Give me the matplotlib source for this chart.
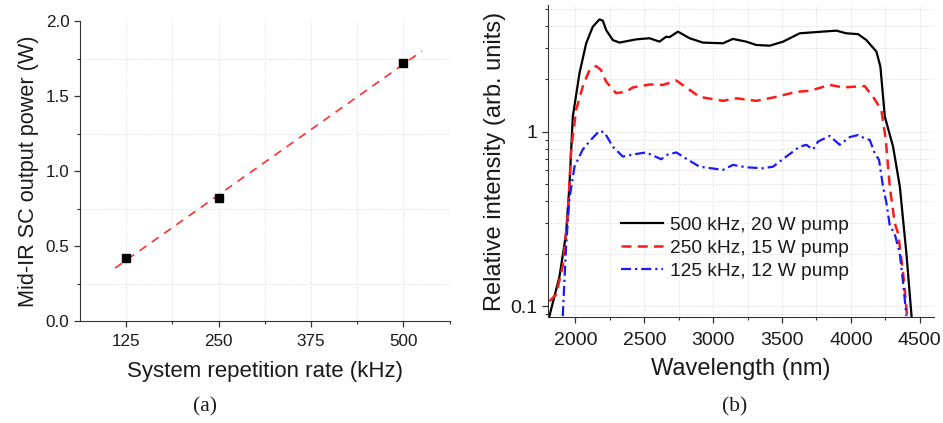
import numpy as np
import matplotlib.pyplot as plt
from matplotlib.ticker import MultipleLocator, FixedLocator, NullFormatter, LogLocator

plt.rcParams['font.family'] = ['Liberation Sans', 'DejaVu Sans']

# panel (a): output power vs repetition rate
rep_rate = [125, 250, 500]
power = [0.42, 0.82, 1.72]

# panel (b): spectra (wavelength nm, relative intensity)
wl_500 = [1811, 1884, 1932, 1956, 1981, 2029, 2078, 2126, 2174, 2199, 2223, 2271, 2320,
          2441, 2538, 2610, 2659, 2683, 2744, 2829, 2925, 3071, 3143, 3240, 3313, 3410,
          3507, 3628, 3749, 3894, 3967, 4052, 4112, 4185, 4214, 4246, 4306, 4355, 4403, 4440]
int_500 = [0.088, 0.148, 0.26, 0.485, 1.22, 2.15, 3.2, 3.98, 4.38, 4.31, 3.81, 3.34, 3.23,
           3.37, 3.42, 3.27, 3.49, 3.47, 3.73, 3.42, 3.23, 3.2, 3.39, 3.27, 3.13, 3.1,
           3.27, 3.65, 3.71, 3.78, 3.65, 3.61, 3.34, 2.87, 2.35, 1.22, 0.82, 0.485, 0.2, 0.088]

wl_250 = [1811, 1860, 1908, 1944, 1969, 2005, 2053, 2102, 2150, 2186, 2223, 2295, 2368,
          2417, 2538, 2635, 2683, 2732, 2804, 2901, 3071, 3168, 3313, 3458, 3604, 3701,
          3846, 3943, 4040, 4100, 4161, 4221, 4253, 4282, 4318, 4343, 4379, 4408]
int_250 = [0.107, 0.117, 0.17, 0.33, 0.79, 1.33, 1.81, 2.25, 2.37, 2.25, 1.93, 1.66, 1.69,
           1.79, 1.86, 1.85, 1.9, 1.96, 1.79, 1.58, 1.5, 1.55, 1.5, 1.58, 1.69, 1.71,
           1.85, 1.79, 1.81, 1.82, 1.58, 1.33, 0.9, 0.485, 0.3, 0.26, 0.155, 0.088]

wl_125 = [1908, 1932, 1956, 1993, 2053, 2114, 2174, 2211, 2271, 2344, 2441, 2514, 2623,
          2671, 2732, 2804, 2901, 3071, 3143, 3240, 3361, 3434, 3531, 3628, 3676, 3725,
          3761, 3846, 3919, 3991, 4052, 4100, 4137, 4173, 4204, 4233, 4258, 4282, 4318,
          4355, 4379, 4403]
int_125 = [0.088, 0.22, 0.41, 0.63, 0.79, 0.9, 1.01, 0.99, 0.82, 0.72, 0.745, 0.76, 0.695,
           0.74, 0.76, 0.70, 0.63, 0.604, 0.645, 0.625, 0.617, 0.63, 0.72, 0.82, 0.84, 0.79,
           0.877, 0.945, 0.84, 0.93, 0.956, 0.915, 0.896, 0.75, 0.69, 0.485, 0.39, 0.29, 0.26,
           0.2, 0.136, 0.088]

labels = ['500 kHz, 20 W pump', '250 kHz, 15 W pump', '125 kHz, 12 W pump']

fig = plt.figure(figsize=(9.43, 4.23), dpi=100)
ax1 = fig.add_axes([0.0848, 0.241, 0.392, 0.709])
ax2 = fig.add_axes([0.581, 0.2506, 0.409, 0.7376])

txt = '#1a1a1a'
grid_kw = dict(color='#dadada', linestyle=':', linewidth=0.7)

for ax in (ax1, ax2):
    ax.spines['top'].set_visible(False)
    ax.spines['right'].set_visible(False)
    ax.spines['left'].set_color('#333333')
    ax.spines['bottom'].set_color('#333333')
    ax.tick_params(which='both', direction='out', colors='#333333', labelcolor=txt)
    ax.tick_params(which='major', length=4, width=0.9)
    ax.tick_params(which='minor', length=2.5, width=0.8)
    ax.set_axisbelow(True)

# ---- (a)
slope, icpt = np.polyfit(rep_rate, power, 1)
xf = np.array([110, 525])
ax1.plot(xf, slope * xf + icpt, color='#ff3030', lw=1.2, linestyle=(0, (5, 4)))
ax1.plot(rep_rate, power, 's', color='black', markersize=5.5)
ax1.set_xlim(62.5, 562.5)
ax1.set_ylim(0, 2.0)
ax1.xaxis.set_major_locator(FixedLocator([125, 250, 375, 500]))
ax1.xaxis.set_minor_locator(FixedLocator([187.5, 312.5, 437.5, 562.5]))
ax1.yaxis.set_major_locator(MultipleLocator(0.5))
ax1.yaxis.set_minor_locator(MultipleLocator(0.25))
ax1.yaxis.set_major_formatter(plt.FuncFormatter(lambda v, p: f'{v:.1f}'))
ax1.tick_params(labelsize=12.3)
ax1.tick_params(axis='x', pad=5)
ax1.grid(which='both', axis='x', **grid_kw)
ax1.yaxis.grid(True, which='minor', **grid_kw)
ax1.set_xlabel('System repetition rate (kHz)', fontsize=16, color=txt, labelpad=9)
ax1.set_ylabel('Mid-IR SC output power (W)', fontsize=15.6, color=txt, labelpad=5)

# ---- (b)
ax2.set_yscale('log')
ax2.plot(wl_500, int_500, color='black', lw=1.6, label=labels[0])
ax2.plot(wl_250, int_250, color='#ff1a1a', lw=1.8, linestyle=(0, (4, 2.5)), label=labels[1])
ax2.plot(wl_125, int_125, color='#1a1aff', lw=1.6,
         linestyle=(0, (4.5, 1.8, 1, 1.8)), label=labels[2])
ax2.set_xlim(1800, 4600)
ax2.set_ylim(0.087, 5.3)
ax2.xaxis.set_major_locator(FixedLocator([2000, 2500, 3000, 3500, 4000, 4500]))
ax2.xaxis.set_minor_locator(MultipleLocator(250))
ax2.yaxis.set_major_locator(FixedLocator([0.1, 1]))
ax2.yaxis.set_major_formatter(plt.FuncFormatter(lambda v, p: f'{v:g}'))
ax2.yaxis.set_minor_locator(LogLocator(base=10, subs=np.arange(2, 10)))
ax2.yaxis.set_minor_formatter(NullFormatter())
ax2.tick_params(labelsize=14)
ax2.tick_params(axis='x', pad=7)
ax2.grid(which='both', **grid_kw)
ax2.set_xlabel('Wavelength (nm)', fontsize=17, color=txt, labelpad=6)
ax2.set_ylabel('Relative intensity (arb. units)', fontsize=17, color=txt, labelpad=3)
leg = ax2.legend(loc='center left', bbox_to_anchor=(0.19, 0.221), frameon=False,
                 fontsize=13.8, handlelength=2.2, handletextpad=0.36, labelspacing=0.3,
                 borderpad=0, borderaxespad=0)
for t in leg.get_texts():
    t.set_color(txt)

fig.text(0.217, 0.037, '(a)', family=['Liberation Serif', 'DejaVu Serif'],
         fontsize=15.5, ha='center', va='center', color=txt)
fig.text(0.779, 0.037, '(b)', family=['Liberation Serif', 'DejaVu Serif'],
         fontsize=15.5, ha='center', va='center', color=txt)

fig.savefig('out.png', dpi=100)
